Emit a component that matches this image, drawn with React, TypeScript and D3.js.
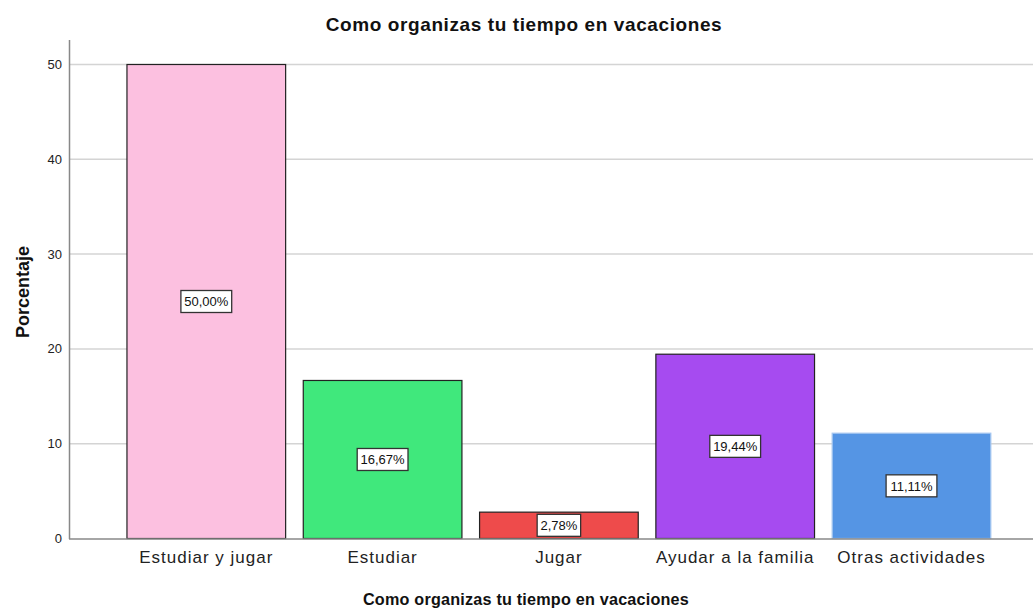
import * as d3 from 'd3';

const categories = ['Estudiar y jugar', 'Estudiar', 'Jugar', 'Ayudar a la familia', 'Otras actividades'];
const percentages = [50.0, 16.67, 2.78, 19.44, 11.11];
const barColors = ['#fcc0e0', '#40e87c', '#ee4b4b', '#a64bf0', '#5595e4'];
const barStrokes = ['#222', '#222', '#222', '#222', '#a8c8f0'];
const yTicks = [0, 10, 20, 30, 40, 50];

const W = 1033;
const H = 608;
const FONT = 'Arimo, "Liberation Sans", Arial, sans-serif';

export default function App() {
  const y = d3.scaleLinear().domain([0, 50]).range([538.5, 64.5]);
  const step = 176.3;
  const x = d3
    .scaleBand<string>()
    .domain(categories)
    .range([206.3 - step / 2, 206.3 - step / 2 + step * categories.length])
    .paddingInner(0.1)
    .paddingOuter(0.05);

  const fmt = (v: number) => v.toFixed(2).replace('.', ',') + '%';

  return (
    <svg
      width={W}
      height={H}
      style={{ position: 'absolute', left: 0, top: 0, background: '#fff' }}
      fontFamily={FONT}
    >
      <text x={524} y={31} textAnchor="middle" fontSize={19} letterSpacing={0.6} fontWeight="bold" fill="#111">
        Como organizas tu tiempo en vacaciones
      </text>

      {/* grid lines */}
      {yTicks.map((t) => (
        <g key={t}>
          {t > 0 && (
            <line x1={70} x2={W} y1={y(t)} y2={y(t)} stroke="#d4d4d4" strokeWidth={1.5} />
          )}
          <text x={62} y={y(t)} dy="0.35em" textAnchor="end" fontSize={13} fill="#222">
            {t}
          </text>
        </g>
      ))}

      {/* bars */}
      {categories.map((c, i) => {
        const x0 = x(c) ?? 0;
        const top = y(percentages[i]);
        const bottom = y(0);
        const bw = x.bandwidth();
        const mid = Math.min((top + bottom) / 2, bottom - 11);
        const label = fmt(percentages[i]);
        const lw = label.length * 7.3 + 7;
        return (
          <g key={c}>
            <rect
              x={x0}
              y={top}
              width={bw}
              height={bottom - top}
              fill={barColors[i]}
              stroke={barStrokes[i]}
              strokeWidth={1.2}
            />
            <rect
              x={x0 + bw / 2 - lw / 2}
              y={mid - 11}
              width={lw}
              height={22}
              fill="#fff"
              stroke="#333"
              strokeWidth={1.3}
            />
            <text x={x0 + bw / 2} y={mid} dy="0.36em" textAnchor="middle" fontSize={13} fill="#111">
              {label}
            </text>
            <text x={x0 + bw / 2} y={563} textAnchor="middle" fontSize={17} letterSpacing={1} fill="#222">
              {c}
            </text>
          </g>
        );
      })}

      {/* axes */}
      <line x1={69.5} x2={69.5} y1={40} y2={539} stroke="#888" strokeWidth={1.5} />
      <line x1={69} x2={W} y1={539} y2={539} stroke="#888" strokeWidth={1.5} />

      <text x={526} y={605} textAnchor="middle" fontSize={16.2} letterSpacing={0.2} fontWeight="bold" fill="#111">
        Como organizas tu tiempo en vacaciones
      </text>
      <text
        transform="translate(29,292) rotate(-90)"
        textAnchor="middle"
        fontSize={18}
        fontWeight="bold"
        fill="#111"
      >
        Porcentaje
      </text>
    </svg>
  );
}
